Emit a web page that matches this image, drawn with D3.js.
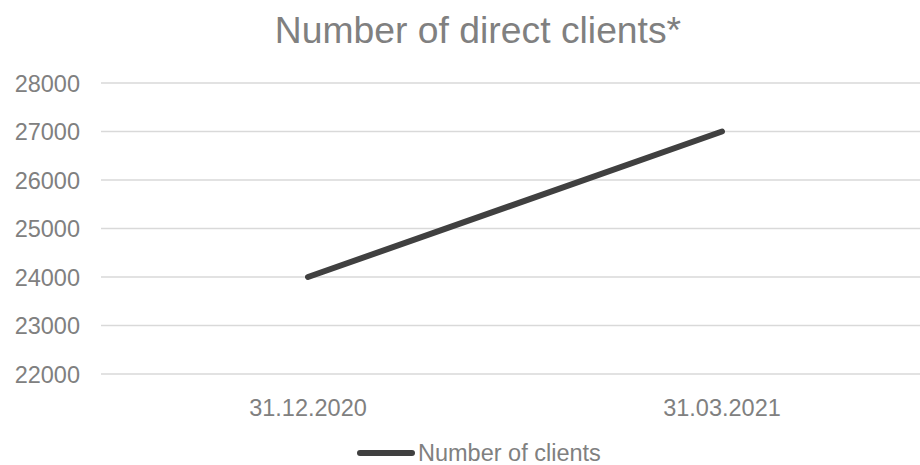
<html>
<head>
<meta charset="utf-8">
<script src="https://d3js.org/d3.v7.min.js"></script>
<style>
  body { margin: 0; background: #fff; }
  text { font-family: "Liberation Sans", Arial, sans-serif; }
</style>
</head>
<body>
<svg id="chart" width="920" height="465"></svg>
<script>
    const categories = ["31.12.2020", "31.03.2021"];
    const clients = [24000, 27000];
    const yTicks = [22000, 23000, 24000, 25000, 26000, 27000, 28000];
    const seriesName = "Number of clients";
    const title = "Number of direct clients*";

    const svg = d3.select("#chart");

    const x = d3.scaleBand()
        .domain(categories)
        .range([101, 929])
        .padding(0);

    const y = d3.scaleLinear()
        .domain([22000, 28000])
        .range([374, 83]);

    // title
    svg.append("text")
        .attr("x", 478)
        .attr("y", 43)
        .attr("text-anchor", "middle")
        .attr("font-size", 37.3)
        .attr("fill", "#808080")
        .text(title);

    // gridlines
    svg.append("g")
        .selectAll("line")
        .data(yTicks)
        .enter()
        .append("line")
        .attr("x1", 101)
        .attr("x2", 920)
        .attr("y1", d => y(d))
        .attr("y2", d => y(d))
        .attr("style", "stroke:#d9d9d9;stroke-width:1.5");

    // y labels
    svg.append("g")
        .selectAll("text")
        .data(yTicks)
        .enter()
        .append("text")
        .attr("x", 80)
        .attr("y", d => y(d) + 8.5)
        .attr("text-anchor", "end")
        .attr("font-size", 23.5)
        .attr("fill", "#808080")
        .text(d => d);

    // x labels
    svg.append("g")
        .selectAll("text")
        .data(categories)
        .enter()
        .append("text")
        .attr("x", d => x(d) + x.bandwidth() / 2)
        .attr("y", 416)
        .attr("text-anchor", "middle")
        .attr("font-size", 23.5)
        .attr("fill", "#808080")
        .text(d => d);

    // series line
    const line = d3.line()
        .x((d, i) => x(categories[i]) + x.bandwidth() / 2)
        .y(d => y(d));

    svg.append("path")
        .datum(clients)
        .attr("d", line)
        .attr("fill", "none")
        .attr("stroke", "#404040")
        .attr("stroke-width", 6)
        .attr("stroke-linecap", "round");

    // legend
    svg.append("line")
        .attr("x1", 360)
        .attr("x2", 412)
        .attr("y1", 453)
        .attr("y2", 453)
        .attr("stroke", "#404040")
        .attr("stroke-width", 6)
        .attr("stroke-linecap", "round");
    svg.append("text")
        .attr("x", 418)
        .attr("y", 461)
        .attr("font-size", 23.5)
        .attr("fill", "#808080")
        .text(seriesName);
</script>
</body>
</html>
